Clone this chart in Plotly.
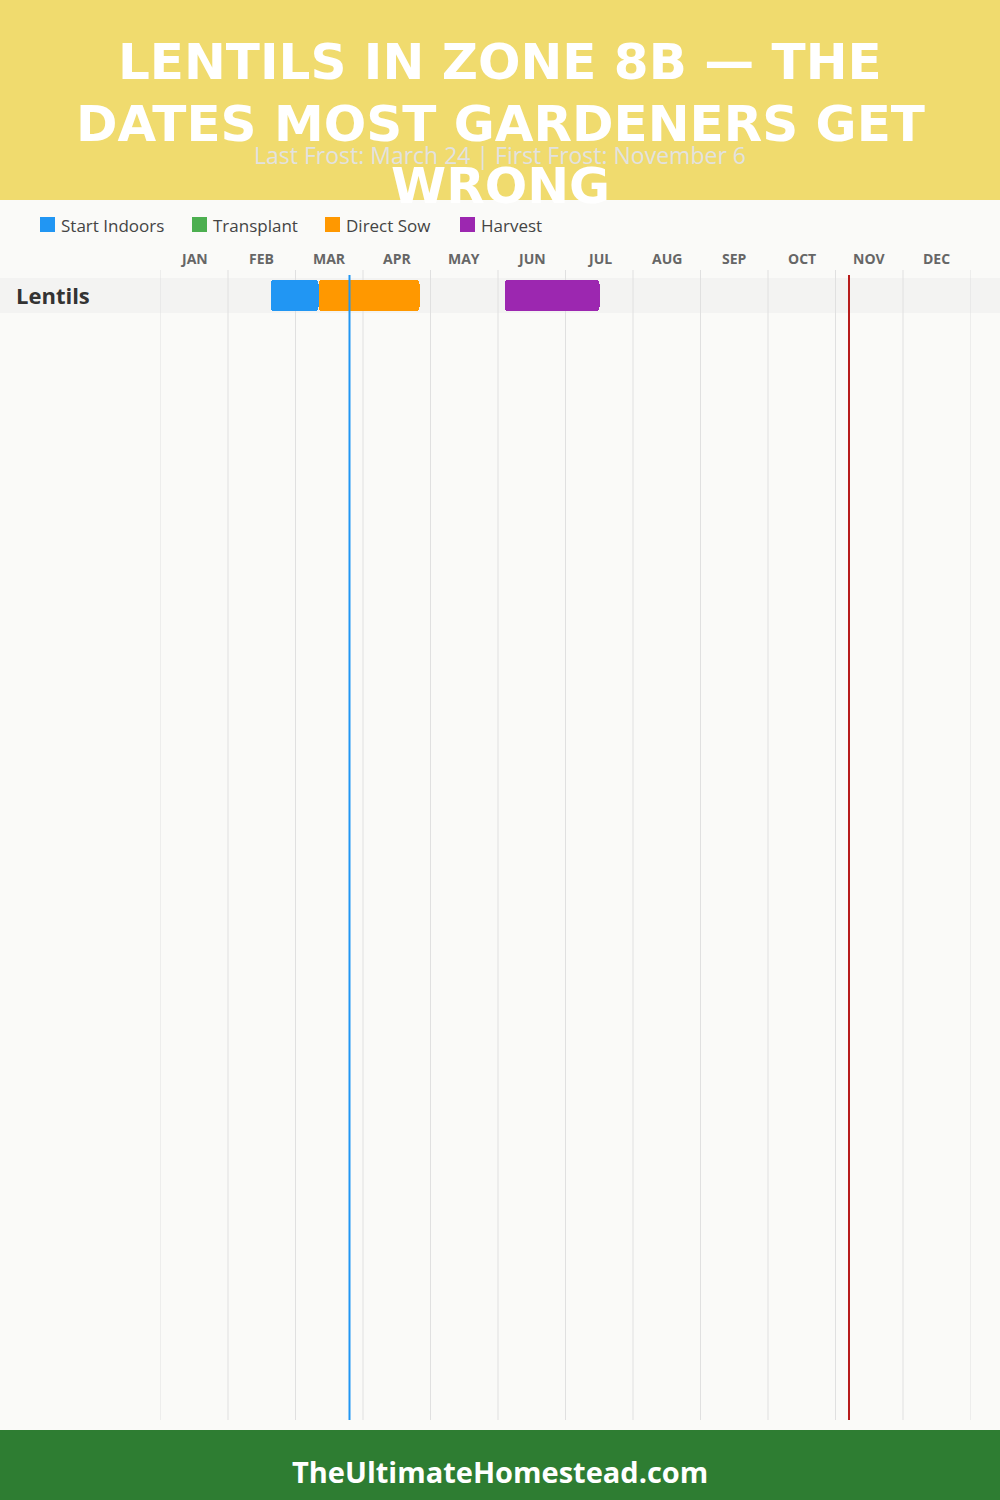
import plotly.graph_objects as go

# ---------------- data ----------------
TITLE_LINES = ["LENTILS IN ZONE 8B — THE", "DATES MOST GARDENERS GET", "WRONG"]
SUBTITLE = "Last Frost: March 24 | First Frost: November 6"
FOOTER = "TheUltimateHomestead.com"
MONTHS = ["JAN", "FEB", "MAR", "APR", "MAY", "JUN", "JUL", "AUG", "SEP", "OCT", "NOV", "DEC"]
CROPS = ["Lentils"]
STAGES = ["Start Indoors", "Transplant", "Direct Sow", "Harvest"]
STAGE_COLORS = ["#2196F3", "#4CAF50", "#FF9800", "#9C27B0"]
# per bar: crop, stage, start (month, day), end (month, day)
STAGE_CROP = ["Lentils", "Lentils", "Lentils"]
STAGE_NAME = ["Start Indoors", "Direct Sow", "Harvest"]
STAGE_START = [(2, 19), (3, 10), (6, 3)]
STAGE_END = [(3, 10), (4, 25), (7, 15)]
LAST_FROST = (3, 24)
FIRST_FROST = (11, 6)

W, H = 1000, 1500


def mpos(md):
    m, d = md
    return (m - 1) + d / 30.0


def py(px):
    return 1 - px / H


PLOT_TOP, PLOT_BOTTOM = 270, 1420
ROW_TOP0, ROW_H = 278, 35
X0, X1 = 160.5, 970.5

fig = go.Figure()

# bars
for crop, name, s, e in zip(STAGE_CROP, STAGE_NAME, STAGE_START, STAGE_END):
    ci = CROPS.index(crop)
    yc = ROW_TOP0 + ROW_H * ci + ROW_H / 2
    fig.add_trace(go.Bar(
        orientation="h", y=[yc], base=[mpos(s)], x=[mpos(e) - mpos(s)],
        width=31, marker=dict(color=STAGE_COLORS[STAGES.index(name)], line=dict(width=0)),
        showlegend=False, hoverinfo="skip"))

# frost lines
for md, col in [(LAST_FROST, "#2196F3"), (FIRST_FROST, "#B71C1C")]:
    fig.add_trace(go.Scatter(x=[mpos(md)] * 2, y=[275, PLOT_BOTTOM], mode="lines",
                             line=dict(color=col, width=2), showlegend=False, hoverinfo="skip"))

shapes = []
# header / footer
shapes.append(dict(type="rect", xref="paper", yref="paper", x0=0, x1=1, y0=py(200), y1=1,
                   fillcolor="#F0DB6E", line=dict(width=0), layer="below"))
shapes.append(dict(type="rect", xref="paper", yref="paper", x0=0, x1=1, y0=0, y1=py(1430),
                   fillcolor="#2E7D32", line=dict(width=0), layer="below"))
# month boundary grid lines
for i in range(len(MONTHS) + 1):
    shapes.append(dict(type="line", xref="x", yref="y", x0=i, x1=i, y0=PLOT_TOP, y1=PLOT_BOTTOM,
                       line=dict(color="#E0E0E0", width=1), layer="below"))
# row bands
for i, c in enumerate(CROPS):
    shapes.append(dict(type="rect", xref="paper", yref="y", x0=0, x1=1,
                       y0=ROW_TOP0 + ROW_H * i, y1=ROW_TOP0 + ROW_H * (i + 1),
                       fillcolor="#F3F3F2", line=dict(width=0), layer="between"))

annotations = []
title_y = [62, 124, 186]
for t, yy in zip(TITLE_LINES, title_y):
    annotations.append(dict(text=t, xref="paper", yref="paper", x=0.5, y=py(yy),
                            xanchor="center", yanchor="middle", showarrow=False,
                            font=dict(family="'DejaVu Sans'", size=50, color="white", weight=900)))
annotations.append(dict(text=SUBTITLE, xref="paper", yref="paper", x=0.5, y=py(155),
                        xanchor="center", yanchor="middle", showarrow=False,
                        font=dict(family="'Open Sans'", size=23, color="#E2E2E0", weight=400)))
# legend
leg_x = [40, 192, 325, 460]
for name, col, lx in zip(STAGES, STAGE_COLORS, leg_x):
    shapes.append(dict(type="rect", xref="paper", yref="paper", x0=lx / W, x1=(lx + 15) / W,
                       y0=py(232), y1=py(217), fillcolor=col, line=dict(width=0)))
    annotations.append(dict(text=name, xref="paper", yref="paper", x=(lx + 19) / W, y=py(225),
                            xanchor="left", yanchor="middle", showarrow=False,
                            font=dict(family="'Open Sans'", size=17, color="#444444")))
# month labels
for i, m in enumerate(MONTHS):
    annotations.append(dict(text=m, xref="x", yref="paper", x=i + 0.5, y=py(259),
                            xanchor="center", yanchor="middle", showarrow=False,
                            font=dict(family="'Open Sans'", size=14, color="#666666", weight=700)))
# crop labels
for i, c in enumerate(CROPS):
    annotations.append(dict(text=c, xref="paper", yref="y", x=14 / W,
                            y=ROW_TOP0 + ROW_H * i + ROW_H / 2,
                            xanchor="left", yanchor="middle", showarrow=False,
                            font=dict(family="'Open Sans'", size=22, color="#333333", weight=700)))
annotations.append(dict(text=FOOTER, xref="paper", yref="paper", x=0.5, y=py(1471),
                        xanchor="center", yanchor="middle", showarrow=False,
                        font=dict(family="'Open Sans'", size=29, color="white", weight=700)))

fig.update_layout(
    width=W, height=H, margin=dict(l=0, r=0, t=0, b=0),
    paper_bgcolor="#FAFAF8", plot_bgcolor="rgba(0,0,0,0)",
    barmode="overlay", barcornerradius=4, bargap=0,
    shapes=shapes, annotations=annotations, showlegend=False,
    xaxis=dict(domain=[X0 / W, X1 / W], range=[0, 12],
               showticklabels=False, showgrid=False,
               zeroline=False, showline=False, ticks="", fixedrange=True),
    yaxis=dict(domain=[py(PLOT_BOTTOM), py(PLOT_TOP)], range=[PLOT_BOTTOM, PLOT_TOP],
               showgrid=False, showticklabels=False, zeroline=False, showline=False,
               fixedrange=True),
)

fig.write_html("out.html", config={"displayModeBar": False},
               post_script="document.body.style.margin='0';document.body.style.padding='0';")
